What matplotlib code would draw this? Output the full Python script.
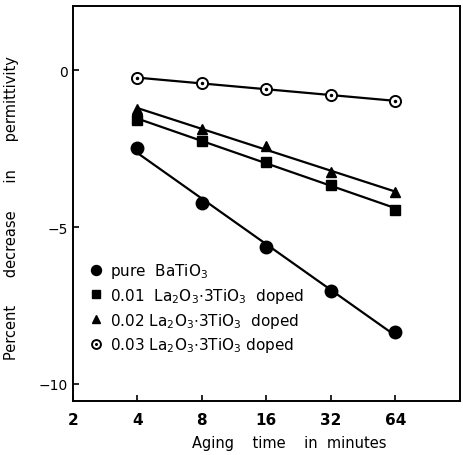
import numpy as np
import matplotlib
matplotlib.use("Agg")
import matplotlib.pyplot as plt

# aging time (minutes) and percent decrease in permittivity
t = [4, 8, 16, 32, 64]
pure = [-2.48, -4.24, -5.62, -7.05, -8.35]
dop01 = [-1.58, -2.25, -2.92, -3.65, -4.45]
dop02 = [-1.24, -1.88, -2.43, -3.26, -3.88]
dop03 = [-0.25, -0.41, -0.60, -0.80, -0.98]

xticks = [2, 4, 8, 16, 32, 64]
yticks = [0, -5, -10]
labels = [r"pure  BaTiO$_3$",
          r"0.01  La$_2$O$_3$$\cdot$3TiO$_3$  doped",
          r"0.02 La$_2$O$_3$$\cdot$3TiO$_3$  doped",
          r"0.03 La$_2$O$_3$$\cdot$3TiO$_3$ doped"]

plt.rcParams['font.family'] = ['DejaVu Sans']
plt.rcParams['mathtext.default'] = 'regular'

fig = plt.figure(figsize=(4.64, 4.56), dpi=100)
ax = fig.add_axes([0.157, 0.118, 0.834, 0.867])

tl = np.log2(t)

def fitline(y):
    # straight line through the points (log time scale)
    m, p = np.polyfit(tl, y, 1)
    return [m * v + p for v in tl]

# lines first, then markers on top
for y in [pure, dop01, dop02, dop03]:
    ax.plot(t, fitline(y), color="black", lw=1.6, zorder=2)

h0, = ax.plot(t, pure, "o", color="black", ms=9, zorder=3)
h1, = ax.plot(t, dop01, "s", color="black", ms=6.5, zorder=3)
h2, = ax.plot(t, dop02, "^", color="black", ms=7, zorder=3)
h3a, = ax.plot(t, dop03, "o", mfc="white", mec="black", mew=1.4, ms=8, zorder=3)
h3b, = ax.plot(t, dop03, ".", color="black", ms=3, zorder=4)

ax.set_xscale("log", base=2)
ax.set_xlim(2, 128)
ax.set_ylim(-10.55, 2.05)
ax.set_xticks(xticks)
ax.set_xticklabels([str(v) for v in xticks], fontsize=11, fontweight="bold")
ax.xaxis.set_minor_locator(matplotlib.ticker.NullLocator())
ax.set_yticks(yticks)
ax.set_yticklabels(["0", "\u22125", "\u221210"], fontsize=10)
ax.tick_params(direction="in", length=4, width=1.2)
ax.tick_params(axis="x", pad=8)

for s in ax.spines.values():
    s.set_linewidth(1.4)

ax.set_xlabel("Aging    time    in  minutes", fontsize=10.5)
ax.xaxis.set_label_coords(0.56, -0.085)
ax.set_ylabel("Percent      decrease      in      permittivity", fontsize=10.5)
ax.yaxis.set_label_coords(-0.14, 0.49)

ax.legend([h0, h1, h2, (h3a, h3b)], labels, loc="upper left",
          bbox_to_anchor=(0.025, 0.37), frameon=False, fontsize=11,
          handlelength=0.9, handletextpad=0.5, labelspacing=0.38,
          borderaxespad=0, markerscale=0.8)

plt.savefig("out.png", dpi=100)
